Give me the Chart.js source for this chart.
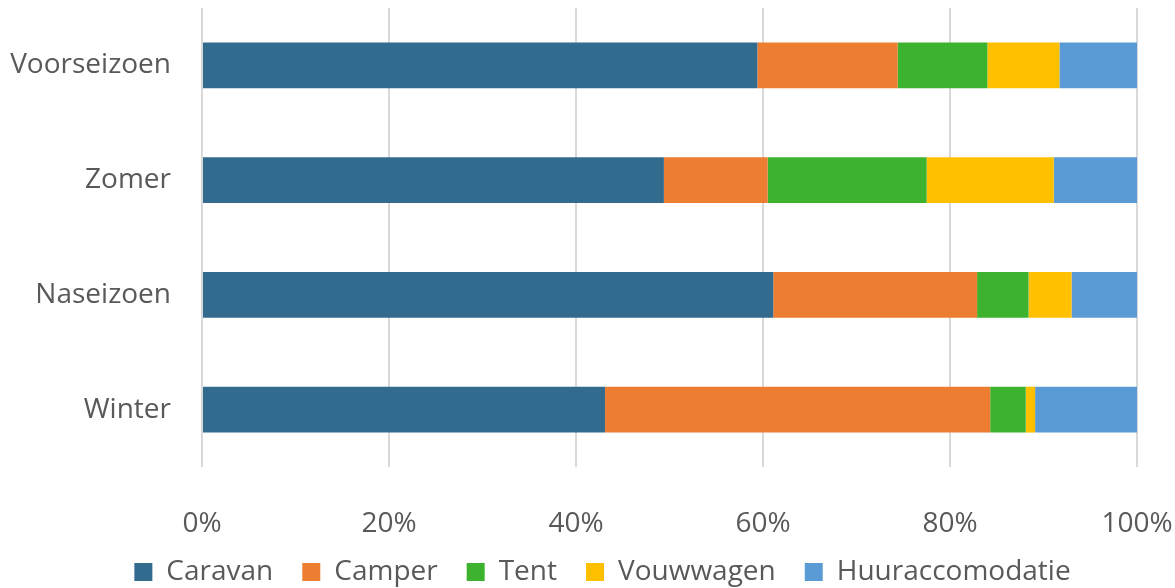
<!DOCTYPE html>
<html>
<head>
<meta charset="utf-8">
<script src="https://cdn.jsdelivr.net/npm/chart.js@4"></script>
<style>
  html, body { margin: 0; padding: 0; background: #fff; }
  #wrap { width: 1175px; height: 588px; }
</style>
</head>
<body>
<div id="wrap"><canvas id="grafica"></canvas></div>
<script>
const seizoenen = ['Voorseizoen', 'Zomer', 'Naseizoen', 'Winter'];

// aandeel per type (%)
const caravan = [59.4, 49.4, 61.1, 43.1];
const camper = [15.0, 11.1, 21.8, 41.2];
const tent = [9.6, 17.0, 5.5, 3.8];
const vouwwagen = [7.7, 13.6, 4.6, 1.0];
const huur = [8.3, 8.9, 7.0, 10.9];

const xTicks = [0, 20, 40, 60, 80, 100];

const tekstKleur = '#595959';
const font = 'Open Sans';

// legenda: lage box, daarna iets omhoog en naar rechts geschoven
const legendaPlugin = {
  id: 'legendaPlek',
  beforeLayout(chart) {
    const lg = chart.legend;
    if (lg && !lg._gepatcht) {
      const fit = lg.fit.bind(lg);
      lg.fit = function () { fit(); this.height = 34; };
      lg._gepatcht = true;
    }
  },
  afterLayout(chart) {
    const lg = chart.legend;
    if (lg) {
      lg.left += 34; lg.right += 34;
      lg.top -= 25;
      lg.height = lg.bottom - lg.top;
    }
  }
};

const ctx = document.getElementById('grafica').getContext('2d');

new Chart(ctx, {
  type: 'bar',
  data: {
    labels: seizoenen,
    datasets: [
      { label: 'Caravan', data: caravan, backgroundColor: '#336b8f' },
      { label: 'Camper', data: camper, backgroundColor: '#ed7d31' },
      { label: 'Tent', data: tent, backgroundColor: '#3cb22f' },
      { label: 'Vouwwagen', data: vouwwagen, backgroundColor: '#ffc000' },
      { label: 'Huuraccomodatie', data: huur, backgroundColor: '#5b9bd5' }
    ]
  },
  plugins: [legendaPlugin],
  options: {
    indexAxis: 'y',
    responsive: true,
    maintainAspectRatio: false,
    animation: false,
    layout: { padding: { top: 8, right: 38, left: 0, bottom: 0 } },
    datasets: {
      bar: { categoryPercentage: 1, barPercentage: 0.4 }
    },
    plugins: {
      tooltip: { enabled: false },
      legend: {
        position: 'bottom',
        labels: {
          color: tekstKleur,
          font: { family: font, size: 28 },
          boxWidth: 18,
          boxHeight: 18,
          padding: 29
        }
      }
    },
    scales: {
      x: {
        stacked: true,
        min: 0,
        max: 100,
        afterBuildTicks: scale => { scale.ticks = xTicks.map(v => ({ value: v })); },
        afterFit: scale => {
          scale.height = 87;
          scale.paddingLeft = 0;
          scale.paddingRight = 0;
        },
        border: { display: false },
        grid: { color: '#d9d9d9', lineWidth: 2, drawTicks: false },
        ticks: {
          color: tekstKleur,
          font: { family: font, size: 28 },
          padding: 40,
          maxRotation: 0,
          callback: v => v + '%'
        }
      },
      y: {
        stacked: true,
        afterFit: scale => {
          scale.width = 202;
          scale.paddingTop = 0;
          scale.paddingBottom = 0;
        },
        border: { display: false },
        grid: { display: false },
        ticks: {
          color: tekstKleur,
          font: { family: font, size: 28 },
          padding: 23
        }
      }
    }
  }
});
</script>
</body>
</html>
